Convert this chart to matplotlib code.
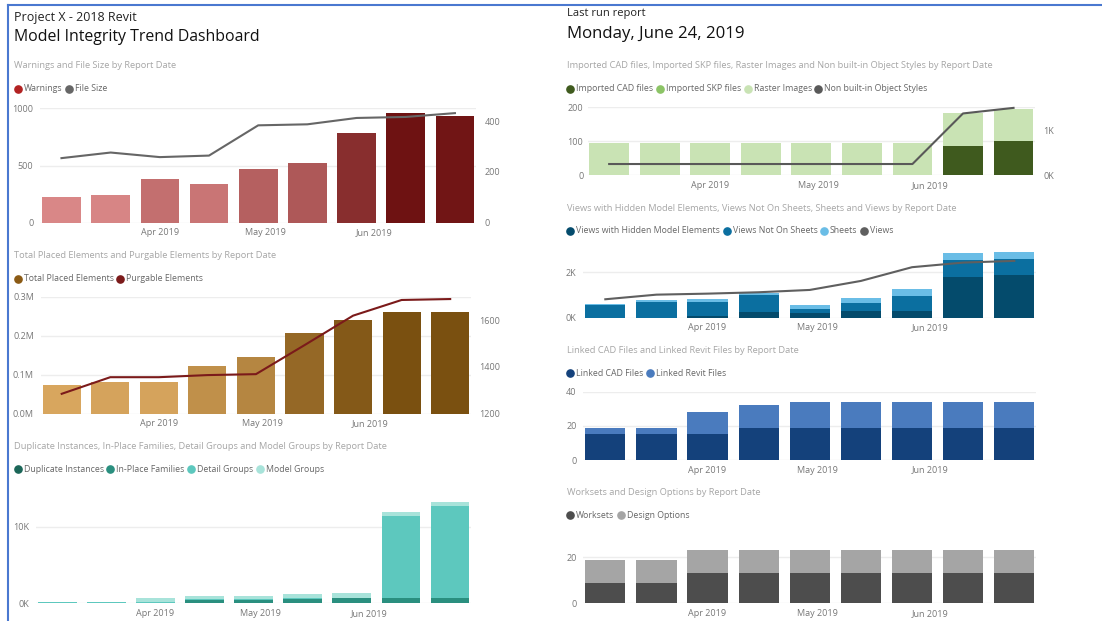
import datetime as dt

import matplotlib
matplotlib.use("Agg")
import matplotlib.pyplot as plt
import matplotlib.dates as mdates
from matplotlib.colors import LinearSegmentedColormap, Normalize
from matplotlib.ticker import FuncFormatter

plt.rcParams["font.family"] = ["Open Sans", "DejaVu Sans"]

W, H = 1102, 621

# ---- data ----
report_dates = ["2019-03-04", "2019-03-18", "2019-04-01", "2019-04-15", "2019-04-29",
                "2019-05-13", "2019-05-27", "2019-06-10", "2019-06-24"]
month_ticks = ["2019-04-01", "2019-05-01", "2019-06-01"]

warnings = [227, 241, 378, 340, 471, 520, 782, 956, 936]
file_size = [254, 276, 258, 264, 383, 387, 412, 416, 431]

total_placed = [74400, 80500, 80500, 121500, 144600, 207700, 241000, 260000, 260800]
purgable = [1285, 1356, 1356, 1365, 1369, 1493, 1619, 1686, 1690]

duplicate_instances = [0, 0, 0, 50, 50, 60, 60, 70, 80]
in_place_families = [0, 0, 0, 350, 350, 500, 580, 580, 660]
detail_groups = [150, 150, 150, 200, 180, 100, 100, 10690, 11910]
model_groups = [50, 50, 500, 400, 420, 510, 560, 520, 520]

imported_cad = [0, 0, 0, 0, 0, 0, 0, 87, 100]
imported_skp = [0, 0, 0, 0, 0, 0, 0, 0, 0]
raster_images = [96, 96, 96, 96, 96, 96, 96, 95, 96]
object_styles = [253, 253, 253, 253, 253, 253, 253, 1387, 1512]

views_hidden = [0, 0, 60, 238, 221, 282, 296, 1810, 1872]
views_not_on_sheets = [547, 706, 620, 751, 176, 354, 675, 724, 706]
sheets = [71, 89, 146, 101, 150, 234, 296, 309, 336]
views = [812, 1015, 1060, 1121, 1223, 1620, 2225, 2428, 2503]

linked_cad = [15, 15, 15, 19, 19, 19, 19, 19, 19]
linked_revit = [4, 4, 13, 13, 15, 15, 15, 15, 15]

worksets = [9, 9, 13, 13, 13, 13, 13, 13, 13]
design_options = [10, 10, 10, 10, 10, 10, 10, 10, 10]

dates = [dt.datetime.strptime(d, "%Y-%m-%d") for d in report_dates]
ticks = [dt.datetime.strptime(d, "%Y-%m-%d") for d in month_ticks]

fig = plt.figure(figsize=(W / 100, H / 100), dpi=100)
renderer = fig.canvas.get_renderer()

bg = fig.add_axes([0, 0, 1, 1])
bg.set_xlim(0, W)
bg.set_ylim(H, 0)
bg.axis("off")

TICK_C = "#777777"
GRID_C = "#EDEDED"


def make_axes(left, right, top, bottom):
    ax = fig.add_axes([left / W, 1 - bottom / H, (right - left) / W, (bottom - top) / H])
    ax.set_xlim(dates[0] - dt.timedelta(days=6), dates[-1] + dt.timedelta(days=6))
    ax.set_xticks(ticks)
    ax.xaxis.set_major_formatter(mdates.DateFormatter("%b %Y"))
    for s in ax.spines.values():
        s.set_visible(False)
    ax.tick_params(length=0, labelsize=6.5, colors=TICK_C, pad=5)
    ax.tick_params(axis="x", pad=4)
    ax.yaxis.grid(True, color=GRID_C, lw=1)
    ax.set_axisbelow(True)
    return ax


def right_axis(ax, lim, yt, fmt=None):
    ax2 = ax.twinx()
    for s in ax2.spines.values():
        s.set_visible(False)
    ax2.set_ylim(*lim)
    ax2.set_yticks(yt)
    if fmt:
        ax2.yaxis.set_major_formatter(FuncFormatter(fmt))
    ax2.tick_params(length=0, labelsize=6.5, colors=TICK_C, pad=6)
    return ax2


def title(x, y, s):
    bg.text(x, y, s, fontsize=6.7, color="#A6A6A6", va="center", ha="left")


def legend(x, y, labels, colors):
    for lab, col in zip(labels, colors):
        bg.plot([x + 3.5], [y], "o", ms=5.2, color=col, clip_on=False)
        t = bg.text(x + 9.5, y, lab, fontsize=6.3, color="#666666", va="center", ha="left")
        x += 9.5 + t.get_window_extent(renderer).width + 3


def stack(ax, series, colors):
    base = [0] * len(dates)
    for vals, col in zip(series, colors):
        ax.bar(dates, vals, width=11, bottom=base, color=col)
        base = [b + v for b, v in zip(base, vals)]


k_fmt = lambda v, p: f"{v / 1000:.0f}K"

# ---- header texts ----
bg.plot([8, 8], [5, H], color="#4A78D0", lw=1.5)
bg.plot([8, W], [5, 5], color="#4A78D0", lw=1.5)
bg.text(14, 18, "Project X - 2018 Revit", fontsize=9, color="#222222", va="center")
bg.text(14, 37, "Model Integrity Trend Dashboard", fontsize=11.4, color="#111111", va="center")
bg.text(566.7, 13.5, "Last run report", fontsize=8, color="#222222", va="center")
bg.text(566.7, 34, "Monday, June 24, 2019", fontsize=12.1, color="#111111", va="center")

# ---- Warnings and File Size ----
title(14, 65.5, "Warnings and File Size by Report Date")
legend(14, 88.5, ["Warnings", "File Size"], ["#B22222", "#666666"])
ax = make_axes(40.4, 476, 108.3, 222.7)
cmap = LinearSegmentedColormap.from_list("w", ["#D98787", "#6E1212"])
norm = Normalize(min(warnings), max(warnings))
ax.bar(dates, warnings, width=11, color=[cmap(norm(v)) for v in warnings])
ax.set_ylim(0, 1000)
ax.set_yticks([0, 500, 1000])
ax2 = right_axis(ax, (0, 450), [0, 200, 400])
ax2.plot(dates, file_size, color="#666666", lw=1.5, clip_on=False)

# ---- Total Placed and Purgable ----
title(14, 255.3, "Total Placed Elements and Purgable Elements by Report Date")
legend(14, 278.7, ["Total Placed Elements", "Purgable Elements"], ["#8B5A14", "#7B1A1A"])
ax = make_axes(40.9, 471, 296.7, 413.7)
cmap = LinearSegmentedColormap.from_list("t", ["#D8A65E", "#7A5010"])
norm = Normalize(min(total_placed), max(total_placed))
ax.bar(dates, total_placed, width=11, color=[cmap(norm(v)) for v in total_placed])
ax.set_ylim(0, 300000)
ax.set_yticks([0, 100000, 200000, 300000])
ax.yaxis.set_major_formatter(FuncFormatter(lambda v, p: f"{v / 1e6:.1f}M"))
ax2 = right_axis(ax, (1200, 1700), [1200, 1400, 1600])
ax2.plot(dates, purgable, color="#7B1A1A", lw=1.5, clip_on=False)

# ---- Duplicates / groups ----
title(14, 446.7, "Duplicate Instances, In-Place Families, Detail Groups and Model Groups by Report Date")
c3 = ["#1B6658", "#2A8F7F", "#5DC8BE", "#A8E3DA"]
legend(14, 469.3, ["Duplicate Instances", "In-Place Families", "Detail Groups", "Model Groups"], c3)
ax = make_axes(36.2, 471, 495.9, 603.3)
stack(ax, [duplicate_instances, in_place_families, detail_groups, model_groups], c3)
ax.set_ylim(0, 14000)
ax.set_yticks([0, 10000])
ax.yaxis.set_major_formatter(FuncFormatter(k_fmt))

# ---- Imported CAD / SKP / Raster / Object styles ----
title(566.7, 66, "Imported CAD files, Imported SKP files, Raster Images and Non built-in Object Styles by Report Date")
c4 = ["#3F5A1E", "#8CC466", "#C9E3B4", "#595959"]
legend(566.7, 88.7, ["Imported CAD files", "Imported SKP files", "Raster Images", "Non built-in Object Styles"], c4)
ax = make_axes(587.5, 1035.2, 107.3, 175.3)
stack(ax, [imported_cad, imported_skp, raster_images], c4[:3])
ax.set_ylim(0, 200)
ax.set_yticks([0, 100, 200])
ax.tick_params(axis="y", pad=3)
ax2 = right_axis(ax, (0, 1525), [0, 1000], k_fmt)
ax2.plot(dates, object_styles, color="#595959", lw=1.5, clip_on=False)

# ---- Views ----
title(566.7, 208.3, "Views with Hidden Model Elements, Views Not On Sheets, Sheets and Views by Report Date")
c5 = ["#044B6C", "#0B6FA0", "#6ABDE6", "#5F5F5F"]
legend(566.7, 230.7, ["Views with Hidden Model Elements", "Views Not On Sheets", "Sheets", "Views"], c5)
ax = make_axes(583.4, 1036.2, 249.6, 317.7)
stack(ax, [views_hidden, views_not_on_sheets, sheets], c5[:3])
ax.plot(dates, views, color="#5F5F5F", lw=1.5)
ax.set_ylim(0, 3000)
ax.set_yticks([0, 2000])
ax.yaxis.set_major_formatter(FuncFormatter(k_fmt))

# ---- Linked files ----
title(566.7, 350.7, "Linked CAD Files and Linked Revit Files by Report Date")
c6 = ["#14417B", "#4A7BBE"]
legend(566.7, 373, ["Linked CAD Files", "Linked Revit Files"], c6)
ax = make_axes(583.4, 1036.2, 391.7, 460)
stack(ax, [linked_cad, linked_revit], c6)
ax.set_ylim(0, 40)
ax.set_yticks([0, 20, 40])

# ---- Worksets ----
title(566.7, 492.7, "Worksets and Design Options by Report Date")
c7 = ["#4D4D4D", "#A5A5A5"]
legend(566.7, 515.3, ["Worksets", "Design Options"], c7)
ax = make_axes(583.4, 1036.2, 545.8, 603.3)
stack(ax, [worksets, design_options], c7)
ax.set_ylim(0, 25)
ax.set_yticks([0, 20])

fig.savefig("out.png", dpi=100)
